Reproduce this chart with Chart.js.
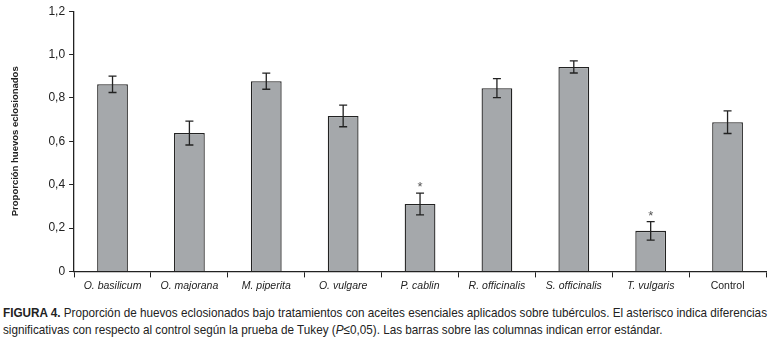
<!DOCTYPE html>
<html>
<head>
<meta charset="utf-8">
<script src="https://cdn.jsdelivr.net/npm/chart.js@4/dist/chart.umd.min.js"></script>
<style>
  html, body { margin: 0; padding: 0; background: #fff; }
  body { width: 773px; height: 349px; position: relative; overflow: hidden; }
  #wrap { position: absolute; left: 0; top: 0; width: 773px; height: 294px; }
  #cap { position: absolute; left: 3px; top: 304px; white-space: nowrap;
         font-family: "Liberation Sans", Arial, sans-serif;
         font-size: 13.5px; line-height: 17px; color: #222; transform-origin: 0 0; }
  #cap b { font-weight: bold; }
</style>
</head>
<body>
<div id="wrap"><canvas id="c" width="773" height="294"></canvas></div>
<div id="cap"><span id="l1"><b>FIGURA 4.</b> Proporción de huevos eclosionados bajo tratamientos con aceites esenciales aplicados sobre tubérculos. El asterisco indica diferencias</span><br><span>significativas con respecto al control según la prueba de Tukey (<i>P</i>≤0,05). Las barras sobre las columnas indican error estándar.</span></div>
<script>
const categories = ["O. basilicum", "O. majorana", "M. piperita", "O. vulgare", "P. cablin", "R. officinalis", "S. officinalis", "T. vulgaris", "Control"];
const italicLabels = [true, true, true, true, true, true, true, true, false];
const proportion = [0.863, 0.638, 0.877, 0.717, 0.311, 0.845, 0.943, 0.187, 0.688];
const stdError = [0.038, 0.055, 0.037, 0.050, 0.050, 0.044, 0.028, 0.043, 0.052];
const significant = [false, false, false, false, true, false, false, true, false];
const yTicks = [0, 0.2, 0.4, 0.6, 0.8, 1.0, 1.2];

// condense caption to fit the line width like the original narrow typeface
(function () {
  const cap = document.getElementById('cap');
  const w = document.getElementById('l1').getBoundingClientRect().width;
  cap.style.transform = 'scaleX(' + (764 / w) + ')';
})();

const FONT = '"Liberation Sans", Arial, sans-serif';
const INK = '#222222';

const errorBars = {
  id: 'errorBars',
  afterDatasetsDraw(chart) {
    const ctx = chart.ctx;
    const y = chart.scales.y;
    const meta = chart.getDatasetMeta(0);
    ctx.save();
    ctx.strokeStyle = INK;
    ctx.lineWidth = 1.3;
    meta.data.forEach((bar, i) => {
      const x = bar.x;
      const top = y.getPixelForValue(proportion[i] + stdError[i]);
      const bot = y.getPixelForValue(proportion[i] - stdError[i]);
      const cap = 4;
      ctx.beginPath();
      ctx.moveTo(x, top); ctx.lineTo(x, bot);
      ctx.moveTo(x - cap, top); ctx.lineTo(x + cap, top);
      ctx.moveTo(x - cap, bot); ctx.lineTo(x + cap, bot);
      ctx.stroke();
      if (significant[i]) {
        ctx.fillStyle = '#555';
        ctx.font = '13px ' + FONT;
        ctx.textAlign = 'center';
        ctx.textBaseline = 'alphabetic';
        ctx.fillText('*', x, top - 2);
      }
    });
    ctx.restore();
  }
};

new Chart(document.getElementById('c'), {
  type: 'bar',
  data: {
    labels: categories,
    datasets: [{
      data: proportion,
      backgroundColor: '#a5a8ab',
      borderColor: INK,
      borderWidth: 1.3,
      borderSkipped: 'bottom',
      barPercentage: 0.8,
      categoryPercentage: 0.5
    }]
  },
  plugins: [errorBars],
  options: {
    responsive: false,
    animation: false,
    events: [],
    layout: { padding: { left: 10, right: 7, top: 1, bottom: 0 } },
    plugins: { legend: { display: false }, tooltip: { enabled: false } },
    scales: {
      x: {
        offset: true,
        grid: { display: true, offset: true, drawOnChartArea: false, color: INK, tickLength: 6, lineWidth: 1 },
        border: { color: INK, width: 1.3 },
        ticks: {
          color: INK,
          maxRotation: 0,
          autoSkip: false,
          padding: 2,
          font: (ctx) => ({ family: FONT, size: 10.5, style: italicLabels[ctx.index] ? 'italic' : 'normal' })
        }
      },
      y: {
        min: 0, max: 1.2,
        afterBuildTicks: (axis) => { axis.ticks = yTicks.map(v => ({ value: v })); },
        grid: { display: true, drawOnChartArea: false, color: INK, tickLength: 5 },
        border: { color: INK, width: 1.3 },
        ticks: {
          color: INK,
          padding: 4,
          font: { family: FONT, size: 12 },
          callback: (v) => v === 0 ? '0' : Number(v).toFixed(1).replace('.', ',')
        },
        title: {
          display: true,
          text: 'Proporción huevos eclosionados',
          color: INK,
          padding: { top: 0, bottom: 23 },
          font: { family: FONT, size: 9.5, weight: 'bold' }
        }
      }
    }
  }
});
</script>
</body>
</html>
